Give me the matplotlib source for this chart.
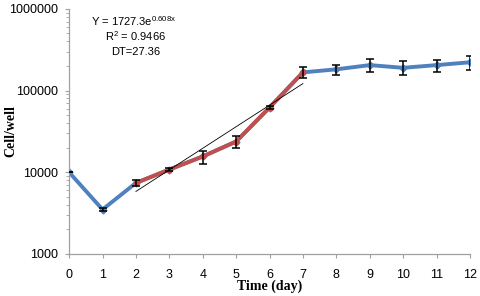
import numpy as np
import matplotlib
matplotlib.use('Agg')
import matplotlib.pyplot as plt
from matplotlib.ticker import LogLocator, NullFormatter, FixedLocator

# data
days = [0, 1, 2, 3, 4, 5, 6, 7, 8, 9, 10, 11, 12]
cells = [10000, 3500, 7400, 10800, 15600, 23800, 62000, 167000, 182000, 205000, 190000, 205000, 222000]
errs = [0, 150, 700, 500, 2800, 4200, 2000, 25000, 25000, 38000, 37000, 35000, 45000]

# exponential growth phase (red) and fitted trendline
growth_days = [2, 3, 4, 5, 6, 7]
fit_a = 1727.3
fit_b = 0.608

blue = '#4F81BD'
red = '#C0504D'

fig = plt.figure(figsize=(4.8, 2.96), dpi=100)
ax = fig.add_axes([0.144, 0.142, 0.835, 0.828])

ax.plot(days, cells, color=blue, lw=2.8, marker='D', ms=3.5, zorder=2)
g_idx = [days.index(d) for d in growth_days]
ax.plot(growth_days, [cells[i] for i in g_idx], color=red, lw=2.8, marker='s', ms=3, zorder=3)
ax.errorbar(days, cells, yerr=errs, fmt='none', ecolor='black', elinewidth=1.1, capsize=3, capthick=1.1, zorder=4)

# trendline from the fit
tx = np.linspace(growth_days[0], growth_days[-1], 50)
ax.plot(tx, fit_a * np.exp(fit_b * tx), color='black', lw=0.6, zorder=5)

ax.set_yscale('log')
ax.set_ylim(1000, 1000000)
ax.set_xlim(0, 12)
ax.set_xticks(days)
ax.yaxis.set_major_locator(FixedLocator([1000, 10000, 100000, 1000000]))
ax.set_yticklabels(['1000', '10000', '100000', '1000000'])
ax.yaxis.set_minor_locator(LogLocator(base=10, subs=np.arange(2, 10)))
ax.yaxis.set_minor_formatter(NullFormatter())

for s in ['top', 'right']:
    ax.spines[s].set_visible(False)
for s in ['left', 'bottom']:
    ax.spines[s].set_color('#A0A0A0')
    ax.spines[s].set_linewidth(0.9)
ax.tick_params(axis='both', which='major', direction='out', length=3, color='#A0A0A0',
               labelsize=9, labelcolor='black')
ax.tick_params(axis='x', which='major', pad=8)
ax.tick_params(axis='y', which='major', pad=5)
ax.tick_params(axis='y', which='minor', direction='out', length=2, color='#A0A0A0')
for lab in ax.get_xticklabels() + ax.get_yticklabels():
    lab.set_family('Liberation Sans')

ax.set_xlabel('Time (day)', family='Liberation Serif', fontweight='bold', fontsize=10)
ax.xaxis.set_label_coords(0.5, -0.105)
ax.set_ylabel('Cell/well', family='Liberation Serif', fontweight='bold', fontsize=10)
ax.yaxis.set_label_coords(-0.128, 0.5)

ax.text(0.162, 0.952, r'Y = 1727.3e$^{\mathregular{0.608x}}$', transform=ax.transAxes, ha='center', va='center',
        fontsize=8, family='Liberation Sans')
ax.text(0.165, 0.889, r'R$^{\mathregular{2}}$ = 0.9466', transform=ax.transAxes, ha='center', va='center',
        fontsize=8, family='Liberation Sans')
ax.text(0.165, 0.826, 'DT=27.36', transform=ax.transAxes, ha='center', va='center',
        fontsize=8, family='Liberation Sans')

plt.savefig('out.png', dpi=100)
plt.close()
